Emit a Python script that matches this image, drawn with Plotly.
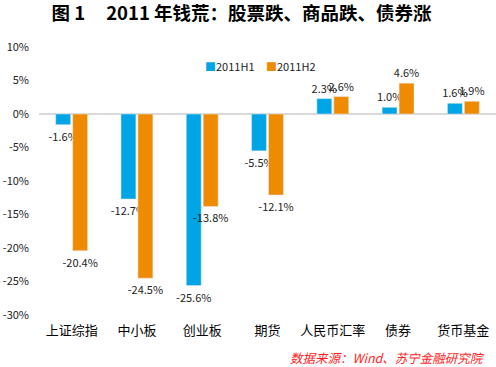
import plotly.graph_objects as go

categories = ["上证综指", "中小板", "创业板", "期货", "人民币汇率", "债券", "货币基金"]
h1_values = [-1.6, -12.7, -25.6, -5.5, 2.3, 1.0, 1.6]
h2_values = [-20.4, -24.5, -13.8, -12.1, 2.6, 4.6, 1.9]
y_ticks = [10, 5, 0, -5, -10, -15, -20, -25, -30]
series_names = ["2011H1", "2011H2"]
colors = ["#00A5E6", "#EE8B00"]

FONT = "Noto Sans CJK SC, Liberation Sans, sans-serif"

fig = go.Figure()
for name, vals, col in zip(series_names, [h1_values, h2_values], colors):
    fig.add_trace(go.Bar(
        name=name, x=categories, y=vals,
        marker_color=col, showlegend=False,
        text=[f"{v:.1f}%" for v in vals], textposition="outside",
        constraintext="none", cliponaxis=False,
        textfont=dict(size=11, color="#222222", family=FONT),
    ))
# legend entries: colored square glyph in the text, each in its own legend
for i, (name, col) in enumerate(zip(series_names, colors)):
    fig.add_trace(go.Scatter(
        name=f"<span style='color:{col}'>■</span>{name}", x=[None], y=[None], mode="markers",
        marker=dict(symbol="square", size=1, color="rgba(0,0,0,0)"), showlegend=True,
        legend="legend" if i == 0 else "legend2",
    ))

leg_common = dict(orientation="h", xanchor="left", y=0.925, yanchor="middle",
                  font=dict(size=11, color="#222222"), bgcolor="rgba(0,0,0,0)",
                  itemwidth=30)
fig.update_layout(
    width=496, height=367,
    margin=dict(l=39, r=0, t=47, b=52),
    paper_bgcolor="white", plot_bgcolor="white",
    barmode="group", bargap=0.48, bargroupgap=0.12,
    font=dict(family=FONT, size=11, color="#222222"),
    title=dict(text="<b>图 1&nbsp;&nbsp;&nbsp;&nbsp;&nbsp;2011 年钱荒：股票跌、商品跌、债券涨</b>",
               x=0.487, xanchor="center", y=0.962, yanchor="middle",
               font=dict(size=18.5, color="black", family=FONT)),
    legend=dict(x=(165 - 39) / 457, **leg_common),
    legend2=dict(x=(226 - 39) / 457, **leg_common),
)
fig.update_xaxes(showgrid=False, showline=False, ticks="", ticklabelstandoff=6,
                 tickfont=dict(size=13, color="black", family=FONT))
fig.update_yaxes(range=[-30, 10], tickvals=y_ticks,
                 ticktext=[f"{v}%" for v in y_ticks],
                 showgrid=False, zeroline=True, zerolinecolor="#D9D9D9", zerolinewidth=1.5,
                 ticklabelstandoff=9,
                 tickfont=dict(size=11, color="#222222", family=FONT), ticks="")

fig.add_annotation(text="<i>数据来源：Wind、苏宁金融研究院</i>", xref="paper", yref="paper",
                   x=1, xanchor="right", y=-0.16, yanchor="middle", showarrow=False,
                   xshift=-9, font=dict(size=12.5, color="#FF1E1E", family=FONT))

fig.write_html("out.html", config={"displayModeBar": False},
               post_script="document.body.style.margin='0';document.body.style.padding='0';")
